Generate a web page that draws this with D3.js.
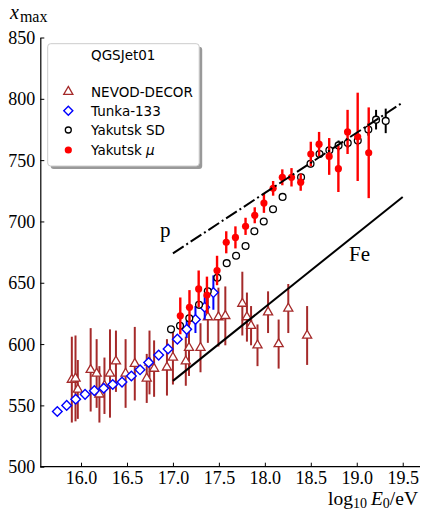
<!DOCTYPE html>
<html>
<head>
<meta charset="utf-8">
<script src="https://cdn.jsdelivr.net/npm/d3@7"></script>
<style>
body { margin: 0; background: #fff; }
</style>
</head>
<body>
<div id="chart"></div>
<script>
// Axis ticks
var xTicks = [16.0, 16.5, 17.0, 17.5, 18.0, 18.5, 19.0, 19.5];
var yTicks = [500, 550, 600, 650, 700, 750, 800, 850];

// NEVOD-DECOR (lg E, xmax, error)
var nevodE = [15.90, 15.94, 15.965, 16.105, 16.17, 16.20, 16.255, 16.315, 16.38, 16.485, 16.585, 16.715, 16.745, 16.795, 16.935,
              17.00, 17.14, 17.175, 17.30, 17.38, 17.495, 17.57, 17.755, 17.805, 17.85, 17.92, 18.035, 18.15, 18.255, 18.46];
var nevodX = [571, 572, 563, 579, 576, 559, 566, 576, 586, 576, 584, 572, 585, 580, 581,
              589, 586, 597, 597, 622, 622, 623, 633, 622, 615, 599, 626, 600, 629, 607];
var nevodErr = [35, 35, 24, 34, 28, 23, 23, 36, 25, 28, 30, 20, 26, 23, 23,
                22, 20, 23, 20, 21, 24, 24, 26, 20, 16, 17, 17, 20, 20, 24];

// Tunka-133
var tunkaE = [15.742, 15.844, 15.942, 16.044, 16.145, 16.247, 16.345, 16.446, 16.548, 16.642, 16.736, 16.845, 16.947, 17.048, 17.15, 17.245, 17.346, 17.44];
var tunkaX = [545, 550, 555, 559, 562, 564, 567, 569, 574, 579, 585, 591, 596, 604, 612, 620, 630, 642];
var tunkaErr = [1, 1, 1, 1, 1, 1, 1, 1, 1, 1, 1, 1, 2, 3, 7, 11, 10, 14];

// Yakutsk SD
var sdE = [16.979, 17.077, 17.178, 17.284, 17.379, 17.483, 17.585, 17.687, 17.79, 17.886, 17.988, 18.089, 18.193,
           18.394, 18.497, 18.595, 18.702, 18.802, 18.902, 19.011, 19.126, 19.21, 19.315];
var sdX = [612, 615, 621, 632, 643, 654, 666, 672, 680, 692, 700, 710, 720,
           736, 747, 755, 758, 762, 764, 766, 775, 783, 782];
var sdErr = [1, 1, 1, 1, 1, 1, 1, 1, 1, 1, 1, 1, 2, 2, 3, 3, 3, 4, 4, 4, 5, 8, 10];

// Yakutsk mu
var muE = [17.08, 17.18, 17.28, 17.37, 17.48, 17.58, 17.68, 17.79, 17.89, 17.99, 18.09, 18.19, 18.29, 18.39, 18.50, 18.59, 18.70, 18.80, 18.90, 19.01, 19.13];
var muX = [623, 630, 645, 640, 660, 683, 687, 696, 705, 715, 727, 736, 736, 732, 755, 763, 753, 743, 773, 769, 756];
var muErr = [15, 14, 15, 15, 12, 9, 9, 7, 6.5, 8, 6, 6.5, 7.5, 7, 10, 10, 15, 19, 18, 36, 37];

// QGSJet01 model lines
var pE = [17.0, 19.5], pX = [674, 797];
var feE = [17.0, 19.5], feX = [570, 720];

function zip(e, x, err) {
    return e.map(function(d, i) { return {e: d, x: x[i], err: err ? err[i] : 0}; });
}

var W = 423, H = 517;
var svg = d3.select("#chart").append("svg")
            .attr("width", W)
            .attr("height", H)
            .style("display", "block");

// Scales
var sx = d3.scaleLinear().domain([15.557, 19.688]).range([40.3, 420]);
var sy = d3.scaleLinear().domain([500, 850]).range([466.7, 37.5]);

var serif = "'Liberation Serif', 'Times New Roman', serif";
var sans = "'DejaVu Sans', sans-serif";

// Axes (ticks pointing inward)
var gx = svg.append("g")
            .attr("transform", "translate(0," + sy(500) + ")")
            .call(d3.axisBottom(sx).tickValues(xTicks).tickFormat(d3.format(".1f"))
                    .tickSizeInner(-4).tickSizeOuter(0).tickPadding(5));
var gy = svg.append("g")
            .attr("transform", "translate(" + sx.range()[0] + ",0)")
            .call(d3.axisLeft(sy).tickValues(yTicks).tickFormat(d3.format("d"))
                    .tickSizeInner(-4).tickSizeOuter(0).tickPadding(5));

[gx, gy].forEach(function(g) {
    g.select(".domain").attr("stroke", "#000").attr("stroke-width", 1.2);
    g.selectAll(".tick line").attr("stroke", "#000").attr("stroke-width", 1);
    g.selectAll(".tick text").attr("font-family", serif).attr("font-size", 18).attr("fill", "#000");
});
gx.select(".domain").attr("d", "M" + sx.range()[0] + ",0H" + sx.range()[1]);
gy.selectAll(".tick text").attr("dy", "0.34em");

// NEVOD-DECOR
var brown = "#a52a2a";
var nevod = zip(nevodE, nevodX, nevodErr);
var gN = svg.append("g");
gN.selectAll("line").data(nevod).enter().append("line")
  .attr("x1", function(d) { return sx(d.e); })
  .attr("x2", function(d) { return sx(d.e); })
  .attr("y1", function(d) { return sy(d.x - d.err); })
  .attr("y2", function(d) { return sy(d.x + d.err); })
  .attr("stroke", brown).attr("stroke-width", 2);
var tri = d3.symbol().type(d3.symbolTriangle).size(36);
gN.selectAll("path").data(nevod).enter().append("path")
  .attr("d", tri)
  .attr("transform", function(d) { return "translate(" + sx(d.e) + "," + sy(d.x) + ")"; })
  .attr("fill", "#fff").attr("stroke", brown).attr("stroke-width", 1.3);

// Tunka-133
var tunka = zip(tunkaE, tunkaX, tunkaErr);
var gT = svg.append("g");
gT.selectAll("line").data(tunka).enter().append("line")
  .attr("x1", function(d) { return sx(d.e); })
  .attr("x2", function(d) { return sx(d.e); })
  .attr("y1", function(d) { return sy(d.x - d.err); })
  .attr("y2", function(d) { return sy(d.x + d.err); })
  .attr("stroke", "#0000ff").attr("stroke-width", 2);
gT.selectAll("rect").data(tunka).enter().append("rect")
  .attr("x", -3.4).attr("y", -3.4).attr("width", 6.8).attr("height", 6.8)
  .attr("transform", function(d) { return "translate(" + sx(d.e) + "," + sy(d.x) + ") rotate(45)"; })
  .attr("fill", "#fff").attr("stroke", "#0000ff").attr("stroke-width", 1.4);

// Yakutsk SD
var sd = zip(sdE, sdX, sdErr);
var gS = svg.append("g");
gS.selectAll("line").data(sd).enter().append("line")
  .attr("x1", function(d) { return sx(d.e); })
  .attr("x2", function(d) { return sx(d.e); })
  .attr("y1", function(d) { return sy(d.x - d.err); })
  .attr("y2", function(d) { return sy(d.x + d.err); })
  .attr("stroke", "#000").attr("stroke-width", 2);
gS.selectAll("circle").data(sd).enter().append("circle")
  .attr("cx", function(d) { return sx(d.e); })
  .attr("cy", function(d) { return sy(d.x); })
  .attr("r", 3.4)
  .attr("fill", "#fff").attr("stroke", "#000").attr("stroke-width", 1.3);

// Yakutsk mu
var mu = zip(muE, muX, muErr);
var gM = svg.append("g");
gM.selectAll("line").data(mu).enter().append("line")
  .attr("x1", function(d) { return sx(d.e); })
  .attr("x2", function(d) { return sx(d.e); })
  .attr("y1", function(d) { return sy(d.x - d.err); })
  .attr("y2", function(d) { return sy(d.x + d.err); })
  .attr("stroke", "#ff0000").attr("stroke-width", 2.4);
gM.selectAll("circle").data(mu).enter().append("circle")
  .attr("cx", function(d) { return sx(d.e); })
  .attr("cy", function(d) { return sy(d.x); })
  .attr("r", 3.6)
  .attr("fill", "#ff0000");

// Model lines
var line = d3.line().x(function(d) { return sx(d.e); }).y(function(d) { return sy(d.x); });
svg.append("path").datum(zip(pE, pX))
   .attr("d", line).attr("fill", "none").attr("stroke", "#000")
   .attr("stroke-width", 2).attr("stroke-dasharray", "12.8,3.2,2,3.2");
svg.append("path").datum(zip(feE, feX))
   .attr("d", line).attr("fill", "none").attr("stroke", "#000").attr("stroke-width", 2);

svg.append("text").attr("x", 160).attr("y", 237).attr("font-family", serif).attr("font-size", 21).text("p");
svg.append("text").attr("x", 349).attr("y", 261).attr("font-family", serif).attr("font-size", 21).text("Fe");

// Axis labels
var yl = svg.append("text").attr("x", 10).attr("y", 18.5).attr("font-family", serif).attr("font-size", 20);
yl.append("tspan").attr("font-style", "italic").text("x");
yl.append("tspan").attr("font-size", 16).attr("dy", 3).attr("dx", 1).text("max");

var xl = svg.append("text").attr("x", 418).attr("y", 505).attr("text-anchor", "end")
            .attr("font-family", serif).attr("font-size", 19.5);
xl.append("tspan").text("log");
xl.append("tspan").attr("font-size", 14).attr("dy", 3).text("10");
xl.append("tspan").attr("dy", -3).attr("dx", 4).attr("font-style", "italic").text("E");
xl.append("tspan").attr("font-size", 14).attr("dy", 3).text("0");
xl.append("tspan").attr("dy", -3).text("/eV");

// Legend
var lg = svg.append("g");
lg.append("rect").attr("x", 50.7).attr("y", 46.7).attr("width", 151.5).attr("height", 122.3)
  .attr("rx", 3).attr("fill", "#808080").attr("opacity", 0.8);
lg.append("rect").attr("x", 47.7).attr("y", 43.7).attr("width", 151.5).attr("height", 122.3)
  .attr("rx", 3).attr("fill", "#fff").attr("stroke", "#cccccc").attr("stroke-width", 1);

var lx = 68.3, tx = 91;
lg.append("text").attr("x", tx).attr("y", 60).attr("font-family", sans).attr("font-size", 13.5).text("QGSJet01");
var items = ["NEVOD-DECOR", "Tunka-133", "Yakutsk SD", "Yakutsk "];
var itemY = [91.7, 110.7, 130, 150];
items.forEach(function(t, i) {
    var txt = lg.append("text").attr("x", tx).attr("y", itemY[i] + 5).attr("font-family", sans).attr("font-size", 13.5).text(t);
    if (i === 3) txt.append("tspan").attr("font-style", "italic").text("\u03bc");
});
lg.append("path").attr("d", tri).attr("transform", "translate(" + lx + "," + itemY[0] + ")")
  .attr("fill", "#fff").attr("stroke", brown).attr("stroke-width", 1.3);
lg.append("rect").attr("x", -3.2).attr("y", -3.2).attr("width", 6.4).attr("height", 6.4)
  .attr("transform", "translate(" + lx + "," + itemY[1] + ") rotate(45)")
  .attr("fill", "#fff").attr("stroke", "#0000ff").attr("stroke-width", 1.4);
lg.append("circle").attr("cx", lx).attr("cy", itemY[2]).attr("r", 3)
  .attr("fill", "#fff").attr("stroke", "#000").attr("stroke-width", 1.3);
lg.append("circle").attr("cx", lx).attr("cy", itemY[3]).attr("r", 3.6).attr("fill", "#ff0000");
</script>
</body>
</html>
